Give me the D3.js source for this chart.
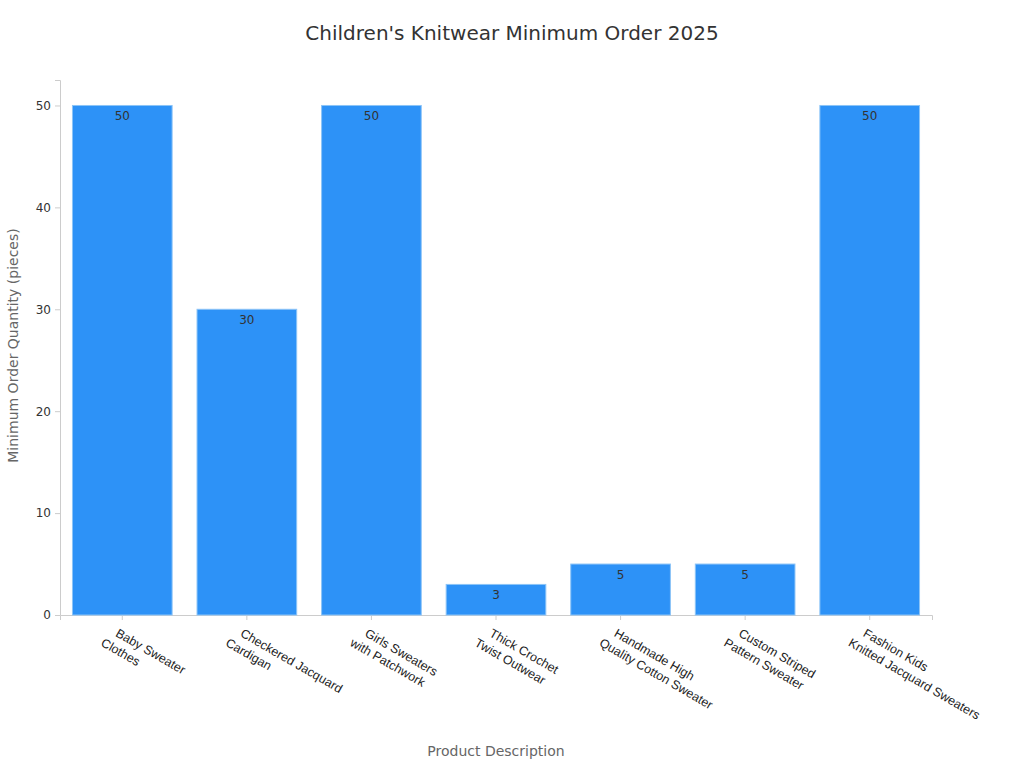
<!DOCTYPE html>
<html><head><meta charset="utf-8">
<script src="https://cdn.jsdelivr.net/npm/d3@7"></script>
<style>body{margin:0;background:#fff;font-family:"DejaVu Sans",sans-serif;}</style>
</head><body><svg width="1024" height="768"></svg>
<script>
const categories = [
  ['Baby Sweater', 'Clothes'],
  ['Checkered Jacquard', 'Cardigan'],
  ['Girls Sweaters', 'with Patchwork'],
  ['Thick Crochet', 'Twist Outwear'],
  ['Handmade High', 'Quality Cotton Sweater'],
  ['Custom Striped', 'Pattern Sweater'],
  ['Fashion Kids', 'Knitted Jacquard Sweaters']
];
const values = [50, 30, 50, 3, 5, 5, 50];
const yTicks = [0, 10, 20, 30, 40, 50];

const svg = d3.select('svg');
const margin = { top: 80, right: 92, bottom: 153, left: 60 };
const innerWidth = 1024 - margin.left - margin.right;
const innerHeight = 768 - margin.top - margin.bottom;
const g = svg.append('g').attr('transform', `translate(${margin.left},${margin.top})`);

const x = d3.scaleBand().domain(d3.range(categories.length)).range([0, innerWidth]).paddingInner(0.2).paddingOuter(0.1);
const y = d3.scaleLinear().domain([0, 52.5]).range([innerHeight, 0]);

const yAxisG = g.append('g').call(d3.axisLeft(y).tickValues(yTicks).tickSize(5).tickPadding(4));
const xAxisG = g.append('g').attr('transform', `translate(0,${innerHeight})`)
  .call(d3.axisBottom(x).tickSize(5).tickFormat(''));
xAxisG.selectAll('.tick text').remove();
[yAxisG, xAxisG].forEach(a => {
  a.selectAll('.domain, line').attr('stroke', '#ccc');
  a.selectAll('text').attr('fill', '#333').style('font-size', '12px').style('font-family', 'DejaVu Sans');
});

xAxisG.selectAll('.tick').each(function (d) {
  const t = d3.select(this).append('text')
    .attr('transform', 'translate(-3,13) rotate(30)')
    .attr('fill', '#222').style('font-size', '12.5px').attr('text-anchor', 'start');
  categories[d].forEach((line, i) => {
    t.append('tspan').attr('x', i === 0 ? 0 : -8).attr('dy', i === 0 ? '0.71em' : '1.25em').text(line);
  });
});

g.selectAll('rect.bar').data(values).join('rect').attr('class', 'bar')
  .attr('x', (d, i) => x(i)).attr('width', x.bandwidth())
  .attr('y', d => y(d)).attr('height', d => innerHeight - y(d))
  .attr('fill', '#2d92f7').attr('stroke', '#8cc4f7').attr('stroke-width', 1);

g.selectAll('text.val').data(values).join('text').attr('class', 'val')
  .attr('x', (d, i) => x(i) + x.bandwidth() / 2).attr('y', d => y(d) + 15)
  .attr('text-anchor', 'middle').attr('fill', '#333').style('font-size', '12px').text(d => d);

svg.append('text').attr('x', 512).attr('y', 40).attr('text-anchor', 'middle')
  .attr('fill', '#333').style('font-size', '20px').text("Children's Knitwear Minimum Order 2025");
svg.append('text').attr('x', 496).attr('y', 756).attr('text-anchor', 'middle')
  .attr('fill', '#666').style('font-size', '14px').text('Product Description');
svg.append('text').attr('transform', `translate(18,${margin.top + innerHeight / 2 - 2}) rotate(-90)`)
  .attr('text-anchor', 'middle').attr('fill', '#666').style('font-size', '14px')
  .text('Minimum Order Quantity (pieces)');
</script></body></html>
